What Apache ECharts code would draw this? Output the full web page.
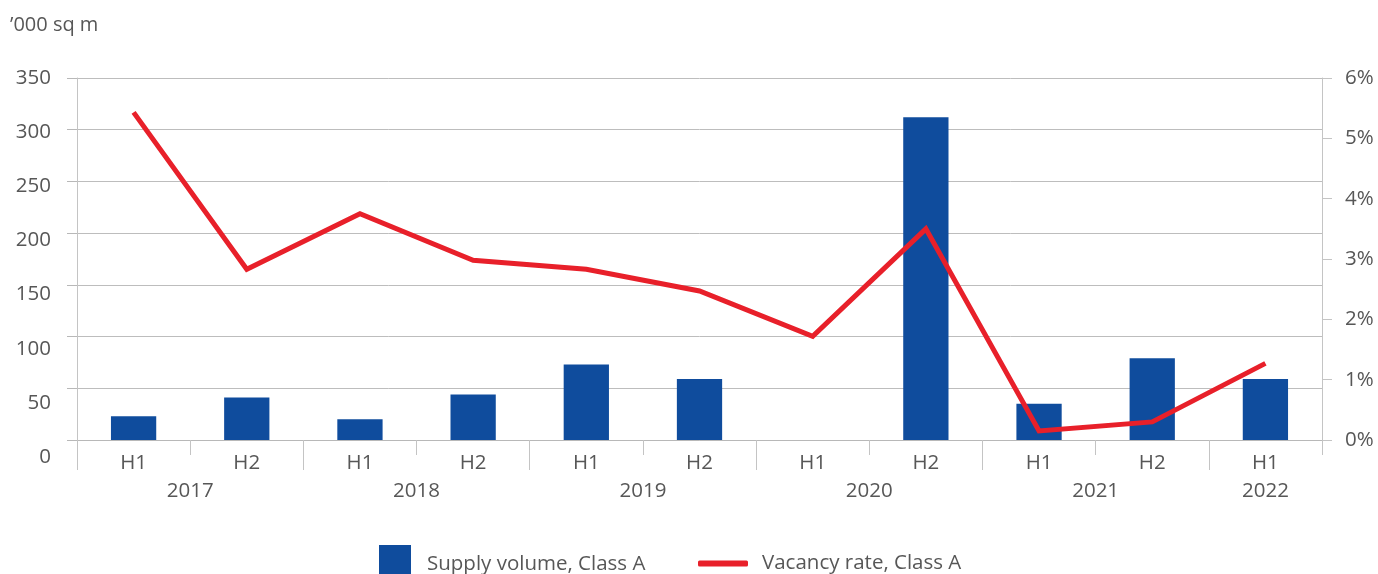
<!DOCTYPE html>
<html>
<head>
<meta charset="utf-8">
<script src="https://cdn.jsdelivr.net/npm/echarts@6/dist/echarts.min.js"></script>
<style>
  html, body { margin: 0; padding: 0; background: #fff; }
  #chart { width: 1378px; height: 574px; }
</style>
</head>
<body>
<div id="chart"></div>
<script>
// Half-year periods and the years they belong to
const halves = ['H1', 'H2', 'H1', 'H2', 'H1', 'H2', 'H1', 'H2', 'H1', 'H2', 'H1'];
const years = ['2017', '2018', '2019', '2020', '2021', '2022'];
const halvesPerYear = [2, 2, 2, 2, 2, 1];

// Class A supply, '000 sq m
const supplyVolume = [23, 41, 20, 44, 73, 59, 0, 312, 35, 79, 59];
// Class A vacancy rate, %
const vacancyRate = [5.43, 2.83, 3.75, 2.98, 2.83, 2.47, 1.72, 3.5, 0.15, 0.3, 1.27];

const supplyTicks = { min: 0, max: 350, interval: 50 };
const vacancyTicks = { min: 0, max: 6, interval: 1 };

const FONT = '"Open Sans", Lato, sans-serif';
const FS = 20.5;
const TEXT = '#575757';
const LINE = '#c4c4c4';

// Year row: one slot per half-year boundary/midpoint, label at the middle of each year
const yearSlots = new Array(halves.length * 2 + 1).fill('');
const yearStarts = [];
let pos = 0;
years.forEach((y, k) => {
  yearStarts.push(pos);
  yearSlots[pos + halvesPerYear[k]] = y;
  pos += halvesPerYear[k] * 2;
});

const chart = echarts.init(document.getElementById('chart'));
chart.setOption({
  animation: false,
  textStyle: { fontFamily: FONT },
  title: {
    text: '\u2019000 sq m',
    left: 10, top: 15, padding: 0,
    textStyle: { fontFamily: FONT, fontSize: 20, fontWeight: 'normal', color: TEXT }
  },
  grid: [
    { left: 77, right: 56, top: 78, bottom: 134 },
    { left: 77, right: 56, top: 78, bottom: 117 }
  ],
  legend: [
    {
      data: ['Supply volume, Class A'],
      left: 379, top: 545, padding: 0,
      itemWidth: 32, itemHeight: 38,
      icon: 'rect',
      textStyle: { fontFamily: FONT, fontSize: FS, color: TEXT, padding: [0, 0, 0, 11] }
    },
    {
      data: [{ name: 'Vacancy rate, Class A', icon: 'roundRect' }],
      left: 698, top: 553, padding: 0,
      itemWidth: 50, itemHeight: 6,
      textStyle: { fontFamily: FONT, fontSize: FS, color: TEXT, padding: [2, 0, 0, 9] }
    }
  ],
  xAxis: [
    {
      type: 'category', gridIndex: 0, data: halves,
      axisLine: { show: true, lineStyle: { color: '#b8b8b8', width: 1 } },
      axisTick: { show: true, interval: 0, length: 15, lineStyle: { color: LINE } },
      axisLabel: { interval: 0, margin: 13, fontSize: FS, color: TEXT, fontFamily: FONT }
    },
    {
      type: 'category', gridIndex: 0, data: yearSlots, boundaryGap: false,
      position: 'bottom',
      axisLine: { show: false },
      axisTick: {
        show: true, length: 30,
        interval: (i) => yearStarts.indexOf(i) !== -1,
        lineStyle: { color: LINE }
      },
      axisLabel: { interval: 0, margin: 41, fontSize: FS, color: TEXT, fontFamily: FONT },
      splitLine: { show: false }
    },
    { type: 'category', gridIndex: 1, data: halves, show: false }
  ],
  yAxis: [
    {
      type: 'value', gridIndex: 0, position: 'left',
      min: supplyTicks.min, max: supplyTicks.max, interval: supplyTicks.interval,
      axisLine: { show: true, lineStyle: { color: LINE } },
      axisTick: { show: true, length: 10, lineStyle: { color: '#b8b8b8' } },
      axisLabel: { show: false },
      splitLine: { show: true, lineStyle: { color: '#bdbdbd', width: 1 } }
    },
    {
      type: 'value', gridIndex: 0, position: 'right',
      min: vacancyTicks.min, max: vacancyTicks.max, interval: vacancyTicks.interval,
      axisLine: { show: true, lineStyle: { color: LINE } },
      axisTick: { show: true, length: 10, lineStyle: { color: LINE } },
      axisLabel: { margin: 23, fontSize: FS, color: TEXT, fontFamily: FONT, formatter: '{value}%' },
      splitLine: { show: false }
    },
    {
      type: 'value', gridIndex: 1, position: 'left',
      min: supplyTicks.min, max: supplyTicks.max, interval: supplyTicks.interval,
      axisLine: { show: false }, axisTick: { show: false }, splitLine: { show: false },
      axisLabel: { margin: 26, fontSize: FS, color: TEXT, fontFamily: FONT }
    }
  ],
  series: [
    {
      name: 'Supply volume, Class A',
      type: 'bar', xAxisIndex: 0, yAxisIndex: 0,
      data: supplyVolume,
      barWidth: '40%',
      itemStyle: { color: '#0f4c9d' }
    },
    {
      name: 'Vacancy rate, Class A',
      type: 'line', xAxisIndex: 0, yAxisIndex: 1,
      data: vacancyRate,
      symbol: 'none',
      lineStyle: { color: '#e8202a', width: 5, join: 'miter' },
      itemStyle: { color: '#e8202a' }
    }
  ]
});
</script>
</body>
</html>
